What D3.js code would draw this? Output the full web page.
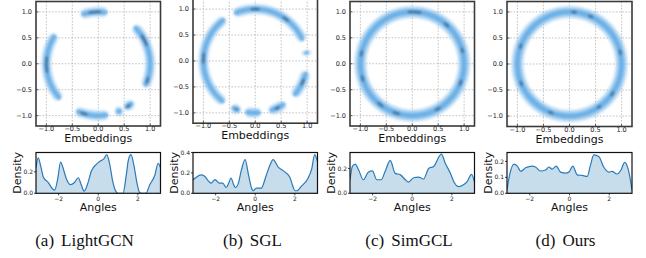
<!DOCTYPE html>
<html><head><meta charset="utf-8">
<script src="https://cdn.jsdelivr.net/npm/d3@7/dist/d3.min.js"></script>
<style>html,body{margin:0;padding:0;background:#fff;}svg{display:block;}</style>
</head><body>
<script>
// ---------- DATA ----------
const methods = ["LightGCN", "SGL", "SimGCL", "Ours"];
const captionLetters = ["(a)", "(b)", "(c)", "(d)"];
const embTicks = [-1.0, -0.5, 0.0, 0.5, 1.0];
const embTickLabels = ["\u22121.0", "\u22120.5", "0.0", "0.5", "1.0"];
const angleTicks = [-2, 0, 2];
const angleTickLabels = ["\u22122", "0", "2"];
const densityTicks = [[0.0, 0.2], [0.0, 0.2, 0.4], [0.0, 0.2], [0.0, 0.1, 0.2]];
const densityMax = [0.38, 0.4, 0.328, 0.256];

// embedding clusters on the unit circle: [startDeg, endDeg] (math angle, CCW from +x)
const arcsLightGCN = [[80, 109], [-26, 46], [146, 223], [245, 281], [290, 297], [301, 312]];
const arcsSGL = [[23, 114], [7, 11], [-42, -12], [-74, -55], [259, 276], [243, 253], [126, 233]];
const arcsSimGCL = [[0, 360]];
const arcsOurs = [[0, 360]];
// dense spots [startDeg, endDeg]
const spotsLightGCN = [[87, 101], [20, 34], [-22, -15], [172, 190], [250, 258], [303, 308]];
const spotsSGL = [[50, 58], [85, 95], [171, 183], [-28, -20], [-68, -62], [247, 250]];
const spotsSimGCL = [[80, 95], [45, 52], [165, 172], [193, 200], [228, 236], [248, 256], [296, 303], [335, 342], [12, 18]];
const spotsOurs = [[82, 88], [63, 69], [157, 163], [10, 16], [199, 205], [322, 328], [302, 307], [246, 252]];

// angle densities: [angle, density]
const densLightGCN = [[-3.14,0.24],[-3.03,0.33],[-2.9,0.25],[-2.77,0.15],[-2.52,0.1],[-2.3,0.04],[-2.2,0.03],[-2.05,0.13],[-1.9,0.29],[-1.75,0.22],[-1.6,0.13],[-1.4,0.08],[-1.2,0.1],[-1.01,0.145],[-0.86,0.08],[-0.71,0.02],[-0.55,0.08],[-0.34,0.21],[-0.1,0.27],[0.1,0.3],[0.28,0.32],[0.43,0.36],[0.58,0.27],[0.72,0.12],[0.88,0.02],[1.0,0.0],[1.25,0.0],[1.4,0.15],[1.52,0.31],[1.65,0.36],[1.8,0.26],[1.95,0.1],[2.08,0.01],[2.2,0.0],[2.4,0.0],[2.6,0.08],[2.86,0.17],[3.02,0.28],[3.14,0.24]];
const densSGL = [[-3.14,0.133],[-2.99,0.156],[-2.74,0.18],[-2.57,0.17],[-2.4,0.13],[-2.23,0.1],[-2.03,0.135],[-1.81,0.1],[-1.64,0.1],[-1.47,0.057],[-1.34,0.1],[-1.22,0.15],[-1.1,0.09],[-1.0,0.057],[-0.85,0.1],[-0.71,0.22],[-0.51,0.33],[-0.34,0.18],[-0.2,0.06],[-0.1,0.025],[0.05,0.05],[0.3,0.05],[0.56,0.18],[0.75,0.28],[0.9,0.33],[1.15,0.26],[1.49,0.21],[1.74,0.16],[1.9,0.07],[2.0,0.025],[2.1,0.025],[2.33,0.07],[2.67,0.15],[2.85,0.24],[3.0,0.38],[3.14,0.31]];
const densSimGCL = [[-3.14,0.109],[-3.02,0.216],[-2.88,0.234],[-2.71,0.19],[-2.47,0.109],[-2.22,0.17],[-2.01,0.18],[-1.79,0.109],[-1.57,0.109],[-1.37,0.175],[-1.11,0.264],[-0.86,0.16],[-0.61,0.15],[-0.35,0.109],[-0.19,0.09],[0.07,0.125],[0.32,0.13],[0.57,0.115],[0.83,0.2],[1.08,0.216],[1.47,0.315],[1.67,0.24],[1.93,0.16],[2.1,0.093],[2.35,0.053],[2.6,0.07],[2.77,0.093],[2.99,0.152],[3.14,0.093]];
const densOurs = [[-3.14,0.023],[-3.01,0.116],[-2.79,0.183],[-2.62,0.17],[-2.45,0.1375],[-2.21,0.16],[-1.87,0.171],[-1.71,0.165],[-1.46,0.14],[-1.21,0.146],[-1.04,0.165],[-0.87,0.152],[-0.67,0.171],[-0.45,0.133],[-0.2,0.127],[-0.03,0.133],[0.17,0.171],[0.39,0.116],[0.64,0.112],[0.89,0.106],[1.05,0.175],[1.22,0.241],[1.47,0.231],[1.72,0.165],[1.97,0.133],[2.14,0.1375],[2.39,0.121],[2.59,0.146],[2.77,0.194],[2.94,0.156],[3.14,0.023]];

const allArcs = [arcsLightGCN, arcsSGL, arcsSimGCL, arcsOurs];
const allSpots = [spotsLightGCN, spotsSGL, spotsSimGCL, spotsOurs];
const allDens = [densLightGCN, densSGL, densSimGCL, densOurs];

// ---------- LAYOUT ----------
const W = 646, H = 258;
const layout = [
  {sx: 36,  sy: 1.5,  ss: 124.5, dx: 36,  dw: 124.5, cap: 84.5,  band: 9},
  {sx: 193, sy: -1.3, ss: 124.5, dx: 193, dw: 124.5, cap: 252.5, band: 9},
  {sx: 350, sy: 1.5,  ss: 124.5, dx: 350, dw: 124.5, cap: 409,   band: 11},
  {sx: 507, sy: 1.5,  ss: 125,   dx: 507, dw: 125,   cap: 565.5, band: 11}
];
const dTop = 152.5, dH = 40.8;
const sansFont = "'DejaVu Sans', sans-serif";

const svg = d3.select("body").append("svg").attr("width", W).attr("height", H);
const defs = svg.append("defs");
function blurFilter(id, sd) {
  defs.append("filter").attr("id", id).attr("x", "-50%").attr("y", "-50%")
    .attr("width", "200%").attr("height", "200%")
    .append("feGaussianBlur").attr("stdDeviation", sd);
}
blurFilter("bHalo", 1.6);
blurFilter("bCore", 1.1);
blurFilter("bSpot", 0.9);

const toRad = deg => (90 - deg) * Math.PI / 180;

layout.forEach((L, i) => {
  const g = svg.append("g");
  // ----- Scatter -----
  const x = d3.scaleLinear([-1.2, 1.2], [L.sx, L.sx + L.ss]);
  const y = d3.scaleLinear([-1.2, 1.2], [L.sy + L.ss, L.sy]);
  const clipId = "clip" + i;
  defs.append("clipPath").attr("id", clipId).append("rect")
    .attr("x", L.sx).attr("y", L.sy).attr("width", L.ss).attr("height", L.ss);

  const grid = g.append("g");
  grid.selectAll(".gx").data(embTicks).join("line")
    .attr("x1", d => x(d)).attr("x2", d => x(d)).attr("y1", L.sy).attr("y2", L.sy + L.ss)
    .attr("stroke", "#b3b3b3").attr("stroke-width", 0.8).attr("stroke-dasharray", "1.6,1.6");
  grid.selectAll(".gy").data(embTicks).join("line")
    .attr("y1", d => y(d)).attr("y2", d => y(d)).attr("x1", L.sx).attr("x2", L.sx + L.ss)
    .attr("stroke", "#b3b3b3").attr("stroke-width", 0.8).attr("stroke-dasharray", "1.6,1.6");

  const R = x(1) - x(0);
  const ring = g.append("g").attr("clip-path", `url(#${clipId})`)
    .append("g").attr("transform", `translate(${x(0)},${y(0)})`);
  const bw = L.band;
  const halo = d3.arc().innerRadius(R - bw / 2).outerRadius(R + bw / 2).cornerRadius(bw / 2)
    .startAngle(d => toRad(d[0])).endAngle(d => toRad(d[1]));
  const core = d3.arc().innerRadius(R - bw * 0.22).outerRadius(R + bw * 0.22).cornerRadius(bw * 0.22)
    .startAngle(d => toRad(d[0])).endAngle(d => toRad(d[1]));
  const spot = d3.arc().innerRadius(R - 1.2).outerRadius(R + 1.2).cornerRadius(1.2)
    .startAngle(d => toRad(d[0])).endAngle(d => toRad(d[1]));
  ring.selectAll(".halo").data(allArcs[i]).join("path").attr("d", halo)
    .attr("fill", "#9ccaee").attr("opacity", 0.9).attr("filter", "url(#bHalo)");
  ring.selectAll(".core").data(allArcs[i]).join("path").attr("d", core)
    .attr("fill", "#5aa6e4").attr("opacity", 0.75).attr("filter", "url(#bCore)");
  ring.selectAll(".spot").data(allSpots[i]).join("path").attr("d", spot)
    .attr("fill", "#1f3a55").attr("opacity", 0.55).attr("filter", "url(#bSpot)");

  // frame
  g.append("rect").attr("x", L.sx).attr("y", L.sy).attr("width", L.ss).attr("height", L.ss)
    .attr("fill", "none").attr("stroke", "#3a3a3a").attr("stroke-width", 1.6);
  // ticks (inward)
  g.selectAll(".tx").data(embTicks).join("line")
    .attr("x1", d => x(d)).attr("x2", d => x(d)).attr("y1", L.sy + L.ss).attr("y2", L.sy + L.ss - 2.5)
    .attr("stroke", "#3a3a3a").attr("stroke-width", 0.8);
  g.selectAll(".ty").data(embTicks).join("line")
    .attr("y1", d => y(d)).attr("y2", d => y(d)).attr("x1", L.sx).attr("x2", L.sx + 2.5)
    .attr("stroke", "#3a3a3a").attr("stroke-width", 0.8);
  g.selectAll(".lx").data(embTicks).join("text")
    .attr("x", d => x(d)).attr("y", L.sy + L.ss + 5.2)
    .attr("text-anchor", "middle").attr("font-family", sansFont).attr("font-size", 6.5)
    .attr("fill", "#222").text((d, k) => embTickLabels[k]);
  g.selectAll(".ly").data(embTicks).join("text")
    .attr("x", L.sx - 4).attr("y", d => y(d) + 2.3)
    .attr("text-anchor", "end").attr("font-family", sansFont).attr("font-size", 6.5)
    .attr("fill", "#222").text((d, k) => embTickLabels[k]);
  g.append("text").attr("x", L.sx + L.ss / 2).attr("y", L.sy + L.ss + 16.2)
    .attr("text-anchor", "middle").attr("font-family", sansFont).attr("font-size", 11)
    .attr("fill", "#111").text("Embeddings");

  // ----- Density -----
  const dx = d3.scaleLinear([-Math.PI, Math.PI], [L.dx, L.dx + L.dw]);
  const dy = d3.scaleLinear([0, densityMax[i]], [dTop + dH, dTop]);
  const dClip = "dclip" + i;
  defs.append("clipPath").attr("id", dClip).append("rect")
    .attr("x", L.dx).attr("y", dTop).attr("width", L.dw).attr("height", dH);
  const area = d3.area().x(d => dx(d[0])).y0(dy(0)).y1(d => dy(d[1])).curve(d3.curveMonotoneX);
  const line = d3.line().x(d => dx(d[0])).y(d => dy(d[1])).curve(d3.curveMonotoneX);
  const dg = g.append("g").attr("clip-path", `url(#${dClip})`);
  dg.append("path").datum(allDens[i]).attr("d", area).attr("fill", "#1f77b4").attr("fill-opacity", 0.25);
  dg.append("path").datum(allDens[i]).attr("d", line).attr("fill", "none")
    .attr("stroke", "#2a7ab8").attr("stroke-width", 1.2);
  g.append("rect").attr("x", L.dx).attr("y", dTop).attr("width", L.dw).attr("height", dH)
    .attr("fill", "none").attr("stroke", "#111").attr("stroke-width", 1.2);
  g.selectAll(".dtx").data(angleTicks).join("line")
    .attr("x1", d => dx(d)).attr("x2", d => dx(d)).attr("y1", dTop + dH).attr("y2", dTop + dH + 2)
    .attr("stroke", "#111").attr("stroke-width", 0.8);
  g.selectAll(".dlx").data(angleTicks).join("text")
    .attr("x", d => dx(d)).attr("y", dTop + dH + 7.2)
    .attr("text-anchor", "middle").attr("font-family", sansFont).attr("font-size", 6)
    .attr("fill", "#222").text((d, k) => angleTickLabels[k]);
  g.selectAll(".dty").data(densityTicks[i]).join("line")
    .attr("y1", d => dy(d)).attr("y2", d => dy(d)).attr("x1", L.dx).attr("x2", L.dx - 2)
    .attr("stroke", "#111").attr("stroke-width", 0.8);
  g.selectAll(".dly").data(densityTicks[i]).join("text")
    .attr("x", L.dx - 3).attr("y", d => dy(d) + 2.1)
    .attr("text-anchor", "end").attr("font-family", sansFont).attr("font-size", 6)
    .attr("fill", "#222").text(d => d.toFixed(1));
  g.append("text").attr("transform", `translate(${L.dx - 14.6},${dTop + dH / 2}) rotate(-90)`)
    .attr("text-anchor", "middle").attr("font-family", sansFont).attr("font-size", 11)
    .attr("fill", "#111").text("Density");
  g.append("text").attr("x", L.dx + L.dw / 2).attr("y", 210.6)
    .attr("text-anchor", "middle").attr("font-family", sansFont).attr("font-size", 11)
    .attr("fill", "#111").text("Angles");

  // caption
  const cap = g.append("text").attr("x", L.cap).attr("y", 246)
    .attr("text-anchor", "middle").attr("font-family", "'Liberation Serif', 'DejaVu Serif', serif")
    .attr("font-size", 17).attr("fill", "#111");
  cap.append("tspan").text(captionLetters[i]);
  cap.append("tspan").attr("dx", 7).text(methods[i]);
});
</script>
</body></html>
